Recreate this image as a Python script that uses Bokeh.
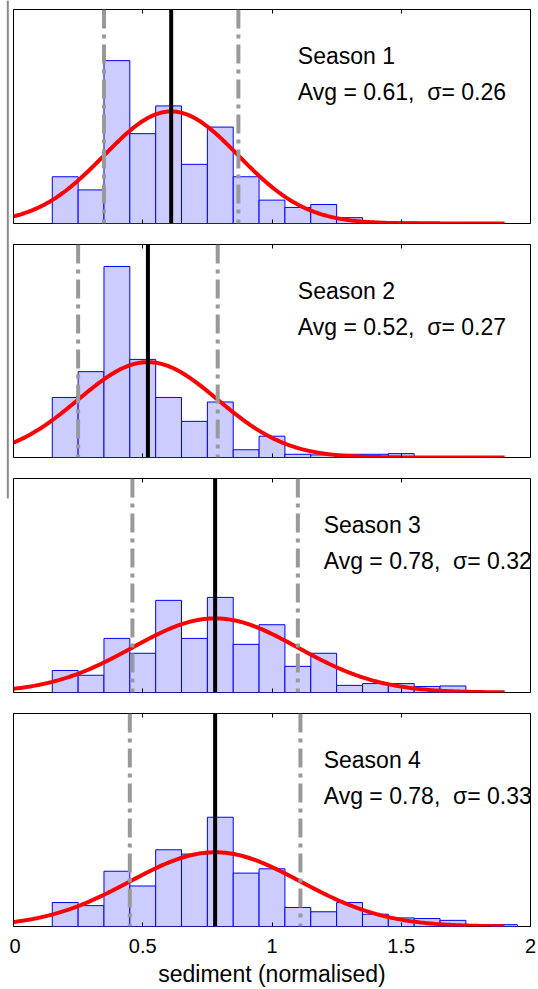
import numpy as np
from bokeh.plotting import figure
from bokeh.models import Range1d, LinearAxis, FixedTicker, Span, Label
from bokeh.layouts import row, column
from bokeh.embed import file_html
from bokeh.resources import INLINE

# ---------------- data ----------------
bin_centers = [0.2, 0.3, 0.4, 0.5, 0.6, 0.7, 0.8, 0.9, 1.0,
               1.1, 1.2, 1.3, 1.4, 1.5, 1.6, 1.7, 1.8, 1.9]
bin_width = 0.1

season1 = [0.64, 0.46, 2.23, 1.23, 1.61, 0.81, 1.32, 0.64, 0.32,
           0.22, 0.26, 0.08, 0.02, 0.02, 0.02, 0.0, 0.0, 0.0]
season2 = [0.93, 1.33, 2.96, 1.52, 0.93, 0.56, 0.86, 0.12, 0.33,
           0.05, 0.04, 0.05, 0.05, 0.06, 0.01, 0.01, 0.01, 0.0]
season3 = [0.37, 0.29, 0.91, 0.66, 1.55, 0.91, 1.60, 0.81, 1.14,
           0.44, 0.66, 0.12, 0.15, 0.15, 0.10, 0.11, 0.0, 0.0]
season4 = [0.39, 0.34, 0.90, 0.66, 1.25, 1.18, 1.78, 0.87, 0.94,
           0.31, 0.24, 0.39, 0.20, 0.14, 0.13, 0.10, 0.0, 0.03]

season_names = ["Season 1", "Season 2", "Season 3", "Season 4"]
averages = [0.61, 0.52, 0.78, 0.78]
sigmas = [0.26, 0.27, 0.32, 0.33]
y_max = [2.93, 3.30, 3.60, 3.47]

x_ticks = [0, 0.5, 1, 1.5, 2]
x_tick_labels = ["0", "0.5", "1", "1.5", "2"]
x_label = "sediment (normalised)"
curve_x_end = 1.9

# ---------------- layout / style ----------------
FONT = "Liberation Sans"
frame_heights = [214, 213, 214, 213]
bottom_borders = [12, 12, 12, 63]
top_border = 9
side_w = 9
main_w = 538 - side_w
text_x = [1.10, 1.10, 1.20, 1.20]
title_offset = 46   # px below frame top (baseline)
avg_offset = 82

series = [season1, season2, season3, season4]
figs = []
for i in range(4):
    h = top_border + frame_heights[i] + bottom_borders[i]
    p = figure(width=main_w, height=h, output_backend="svg", toolbar_location=None,
               x_range=Range1d(0, 2), y_range=Range1d(0, y_max[i]),
               x_axis_location=None, y_axis_location=None,
               min_border_left=13 - side_w, min_border_right=8,
               min_border_top=top_border, min_border_bottom=bottom_borders[i])
    p.grid.grid_line_color = None
    p.outline_line_color = "black"
    p.outline_line_width = 1
    p.background_fill_color = "white"
    p.border_fill_color = "white"

    for loc in ("below", "above"):
        ax = LinearAxis(ticker=FixedTicker(ticks=x_ticks))
        ax.major_tick_in = 4
        ax.major_tick_out = 0
        ax.minor_tick_line_color = None
        ax.axis_line_color = None
        ax.major_tick_line_color = "black"
        if loc == "below" and i == 3:
            ax.major_label_overrides = {t: l for t, l in zip(x_ticks, x_tick_labels)}
            ax.major_label_text_font = FONT
            ax.major_label_text_font_size = "20px"
            ax.major_label_text_color = "black"
            ax.major_label_standoff = 12
            ax.axis_label = x_label
            ax.axis_label_text_font = FONT
            ax.axis_label_text_font_size = "23px"
            ax.axis_label_text_font_style = "normal"
            ax.axis_label_text_color = "black"
            ax.axis_label_standoff = 5
        else:
            ax.major_label_text_font_size = "1px"
            ax.major_label_text_color = None
            ax.major_label_standoff = 0
        p.add_layout(ax, loc)

    vals = series[i]
    lefts = [c - bin_width / 2 for c, v in zip(bin_centers, vals) if v > 0]
    rights = [c + bin_width / 2 for c, v in zip(bin_centers, vals) if v > 0]
    tops = [v for v in vals if v > 0]
    p.quad(left=lefts, right=rights, bottom=0, top=tops,
           fill_color="#CCCCFF", line_color="#0000FF", line_width=1)

    mu, sd = averages[i], sigmas[i]
    xs = np.linspace(0, curve_x_end, 300)
    ys = np.exp(-0.5 * ((xs - mu) / sd) ** 2) / (sd * np.sqrt(2 * np.pi))
    p.line(xs, ys, line_color="#FF0000", line_width=4)

    for loc in (mu - sd, mu + sd):
        p.add_layout(Span(location=loc, dimension="height", line_color="#999999",
                          line_width=4, line_dash="19 6 4 6"))
    p.add_layout(Span(location=mu, dimension="height", line_color="black", line_width=4))

    fh = frame_heights[i]
    texts = [season_names[i], f"Avg = {mu:.2f}, \u00a0\u03c3= {sd:.2f}"]
    offsets = [title_offset, avg_offset]
    for t, off in zip(texts, offsets):
        p.add_layout(Label(x=text_x[i], y=y_max[i] * (1 - off / fh), text=t,
                           text_font=FONT, text_font_size="23px", text_color="black",
                           text_align="left", text_baseline="alphabetic"))
    figs.append(p)

# thin left strip with the stray vertical rule of the original figure
side = figure(width=side_w, height=989, output_backend="svg", toolbar_location=None,
              x_range=Range1d(0, side_w), y_range=Range1d(989, 0),
              x_axis_location=None, y_axis_location=None,
              min_border=0, min_border_left=0, min_border_right=0,
              min_border_top=0, min_border_bottom=0)
side.grid.grid_line_color = None
side.outline_line_color = None
side.segment(x0=[7.3], y0=[0], x1=[7.3], y1=[498], line_color="#888888", line_width=2)

layout = row(side, column(*figs, spacing=0), spacing=0)
open("out.html", "w").write(file_html(layout, INLINE))
